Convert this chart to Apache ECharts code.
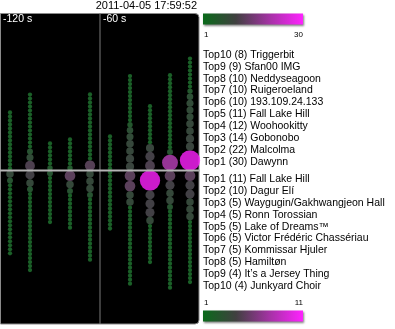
<!DOCTYPE html>
<html>
<head>
<meta charset="utf-8">
<script src="https://cdn.jsdelivr.net/npm/echarts@6/dist/echarts.min.js"></script>
<style>
html,body{margin:0;padding:0;background:#fff;}
#c{width:395px;height:329px;}
</style>
</head>
<body>
<div id="c"></div>
<script>
// ---- data ----
const timestamp = '2011-04-05 17:59:52';
const axisMarks = [-120, -60];            // seconds
const bucketSeconds = [-114, -102, -90, -78, -66, -54, -42, -30, -18, -6];

// editors per bucket (dot value = editor's edit count), nearest the line first
const userDots = [
  [1,1,1,1,1,1,1,1,1,1,1,1,1,1,1],
  [11,6,4,1,1,1,1,1,1,1,1,1,1,1,1,1,1],
  [3,1,1,1,1,1,1],
  [3,1,1,1,1,1,1,1],
  [12,1,1,1,1,1,1,1,1,1,1,1,1,1,1,1,1,1],
  [1,1,1,1,1,1,1,1,1],
  [8,8,7,7,6,5,3,1,1,1,1,1,1,1,1,1,1,1,1],
  [11,10,8,1,1,1,1,1,1,1,1,1,1],
  [22,4,1,1,1,1,1,1,1,1,1,1,1,1,1,1,1,1,1,1,1],
  [30,8,8,7,7,6,6,6,5,3,1,1,1,1,1,1,1,1]
];
// pages per bucket (dot value = page's edit count), nearest the line first
const pageDots = [
  [3,2,1,1,1,1,1,1,1,1,1,1,1,1,1,1,1,1,1,1],
  [4,3,2,1,1,1,1,1,1,1,1,1,1,1,1,1,1,1,1,1,1,1,1],
  [2,1,1,1,1,1,1,1,1,1,1,1,1],
  [5,3,2,1,1,1,1,1,1,1,1,1],
  [3,3,3,2,1,1,1,1,1,1,1,1,1,1,1,1,1,1,1,1],
  [1,1,1,1,1,1,1,1,1,1,1,1,1,1,1],
  [5,5,3,3,1,1,1,1,1,1,1,1,1,1,1,1,1,1,1,1,1,1,1,1],
  [11,4,4,4,3,1,1,1,1,1,1,1,1,1,1],
  [5,4,3,3,2,1,1,1,1,1,1,1,1,1,1,1,1,1,1,1,1,1,1,1,1],
  [5,4,4,3,3,3,1,1,1,1,1,1,1,1,1,1,1,1,1,1,1,1]
];

const userRanks = ['Top10','Top9','Top8','Top7','Top6','Top5','Top4','Top3','Top2','Top1'];
const userCounts = [8, 9, 10, 10, 10, 11, 12, 14, 22, 30];
const userNames = ['Triggerbit','Sfan00 IMG','Neddyseagoon','Ruigeroeland','193.109.24.133',
  'Fall Lake Hill','Woohookitty','Gobonobo','Malcolma','Dawynn'];

const pageRanks = ['Top1','Top2','Top3','Top4','Top5','Top6','Top7','Top8','Top9','Top10'];
const pageCounts = [11, 10, 5, 5, 5, 5, 5, 5, 4, 4];
const pageNames = ['Fall Lake Hill','Dagur Elí','Waygugin/Gakhwangjeon Hall','Ronn Torossian',
  'Lake of Dreams™','Victor Frédéric Chassériau','Kommissar Hjuler','Hamiltøn',
  'It\u2019s a Jersey Thing','Junkyard Choir'];

const userScale = [1, 30];
const pageScale = [1, 11];

// ---- helpers ----
const dotStops = [
  [0, [34,120,50]], [0.2, [66,90,73]], [0.3, [82,80,86]],
  [0.4, [114,80,114]], [0.72, [185,65,185]], [1, [255,34,255]]
];
function dotColor(f) {
  for (let i = 1; i < dotStops.length; i++) {
    if (f <= dotStops[i][0]) {
      const a = dotStops[i-1], b = dotStops[i];
      const t = (f - a[0]) / (b[0] - a[0]);
      const c = a[1].map((v, k) => Math.round(v + (b[1][k] - v) * t));
      return 'rgb(' + c.join(',') + ')';
    }
  }
  return 'rgb(255,34,255)';
}
function radius(v, sc) { return 2 + 8 * (v - sc[0]) / (sc[1] - sc[0]); }
function stackDots(cols, sign, sc) {
  const out = [];
  cols.forEach((vals, i) => {
    let off = 0;
    vals.forEach(v => {
      const r = radius(v, sc);
      out.push([bucketSeconds[i], sign * (off + r), v]);
      off += 2 * r;
    });
  });
  return out;
}
function dotSeries(cols, sign, sc) {
  return {
    type: 'scatter',
    data: stackDots(cols, sign, sc),
    symbol: 'circle',
    symbolSize: d => 2 * radius(d[2], sc) + 0.3,
    itemStyle: { color: p => dotColor((p.data[2] - sc[0]) / (sc[1] - sc[0])) },
    silent: true, z: 3, animation: false
  };
}

const FONT = 'Liberation Sans';
const legendGradient = new echarts.graphic.LinearGradient(0, 0, 1, 0, [
  {offset: 0, color: '#0a6a1a'}, {offset: 0.33, color: '#404040'},
  {offset: 0.66, color: '#a333a3'}, {offset: 1, color: '#ff22ff'}
]);

const graphics = [
  { type: 'rect', z: 0, shape: {x: 0.5, y: 13.5, width: 198.5, height: 310.5, r: [0, 4, 4, 0]},
    style: {fill: '#000', stroke: '#8a8a8a', lineWidth: 1} },
  { type: 'text', z: 10, x: 197, y: 0.5,
    style: {text: timestamp, fill: '#000', font: '11px ' + FONT, align: 'right'} },
  { type: 'text', z: 10, x: 3, y: 14, style: {text: axisMarks[0] + ' s', fill: '#fff', font: '10.5px ' + FONT} },
  { type: 'text', z: 10, x: 103, y: 14, style: {text: axisMarks[1] + ' s', fill: '#fff', font: '10.5px ' + FONT} },
  { type: 'rect', z: 10, shape: {x: 203, y: 13.5, width: 100, height: 11},
    style: {fill: legendGradient, shadowBlur: 2, shadowOffsetX: 1, shadowOffsetY: 1, shadowColor: 'rgba(0,0,0,0.5)'} },
  { type: 'text', z: 10, x: 204, y: 35, style: {text: String(userScale[0]), fill: '#000', font: '8px ' + FONT, verticalAlign: 'middle'} },
  { type: 'text', z: 10, x: 303, y: 35, style: {text: String(userScale[1]), fill: '#000', font: '8px ' + FONT, verticalAlign: 'middle', align: 'right'} },
  { type: 'rect', z: 10, shape: {x: 203, y: 310.5, width: 100, height: 11},
    style: {fill: legendGradient, shadowBlur: 2, shadowOffsetX: 1, shadowOffsetY: 1, shadowColor: 'rgba(0,0,0,0.5)'} },
  { type: 'text', z: 10, x: 204, y: 303, style: {text: String(pageScale[0]), fill: '#000', font: '8px ' + FONT, verticalAlign: 'middle'} },
  { type: 'text', z: 10, x: 303, y: 303, style: {text: String(pageScale[1]), fill: '#000', font: '8px ' + FONT, verticalAlign: 'middle', align: 'right'} }
];
userRanks.forEach((rk, i) => graphics.push({
  type: 'text', z: 10, x: 203, y: 55 + i * 11.85,
  style: {text: rk + ' (' + userCounts[i] + ') ' + userNames[i], fill: '#000', font: '10.5px ' + FONT, verticalAlign: 'middle'}
}));
pageRanks.forEach((rk, i) => graphics.push({
  type: 'text', z: 10, x: 203, y: 179.5 + i * 11.8,
  style: {text: rk + ' (' + pageCounts[i] + ') ' + pageNames[i], fill: '#000', font: '10.5px ' + FONT, verticalAlign: 'middle'}
}));

const chart = echarts.init(document.getElementById('c'), null, {renderer: 'canvas'});
chart.setOption({
  animation: false,
  backgroundColor: '#fff',
  grid: {left: 0, top: 13, width: 200, height: 311, containLabel: false},
  xAxis: {type: 'value', min: -120, max: 0, show: false},
  yAxis: {type: 'value', min: -153.5, max: 157.5, show: false},
  graphic: graphics,
  series: [
    { type: 'line', data: [[axisMarks[1], -153.5], [axisMarks[1], 157.5]], showSymbol: false,
      lineStyle: {color: '#7a7a7a', width: 1}, silent: true, z: 2 },
    dotSeries(userDots, 1, userScale),
    dotSeries(pageDots, -1, pageScale),
    { type: 'line', data: [[-120, 0], [0, 0]], showSymbol: false,
      lineStyle: {color: '#b4b4b4', width: 2}, silent: true, z: 5 }
  ]
});
</script>
</body>
</html>
